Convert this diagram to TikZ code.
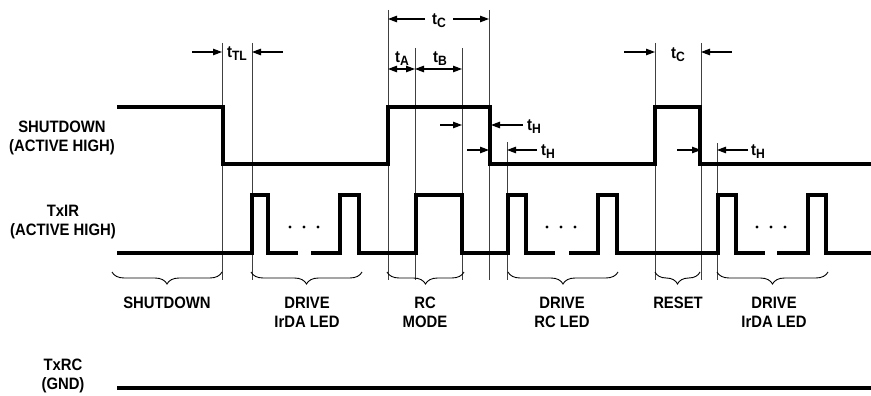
\documentclass[tikz,border=0pt]{standalone}
\usepackage{fontspec}
\setmainfont{Liberation Sans}[FakeStretch=0.9]
\usepackage{tikz}
\usetikzlibrary{arrows.meta,decorations.pathreplacing}

\newcommand{\tsub}[1]{t\raisebox{-0.35ex}{\fontsize{13.5}{13.5}\selectfont #1}}

\tikzset{
  signal/.style={line width=3.2pt, line join=miter},
  guide/.style={line width=0.8pt, black!75},
  dim/.style={line width=1.1pt, -{Triangle[length=9pt,width=6.5pt]}},
  dimboth/.style={line width=1.1pt, {Triangle[length=9pt,width=6.5pt]}-{Triangle[length=9pt,width=6.5pt]}},
  phase/.style={line width=0.9pt, decorate, decoration={brace,mirror,amplitude=12pt}},
  lbl/.style={align=center}
}

\begin{document}
\begin{tikzpicture}[x=1pt, y=-1pt, every node/.style={font=\bfseries\fontsize{16.5}{19}\selectfont, inner sep=0pt}]
    \useasboundingbox (0,0) rectangle (871,396);

    % Guide lines
    \foreach \name/\x/\top in {tla/222/43, tlb/252/43, ca/388/10, ab/415/48, bh/462/48,
                               cb/489/10, ha/507/142, ra/655/43, rb/701/43, hb/717/143} {
        \coordinate (\name) at (\x,\top);
        \draw[guide] (\name) -- (\x,280);
    }

    % Signal names
    \node[lbl] (sdname) at (62,137.5) {SHUTDOWN\\(ACTIVE HIGH)};
    \node[lbl] (irname) at (63,222.5) {TxIR\\(ACTIVE HIGH)};
    \node[lbl] (rcname) at (63,376) {TxRC\\(GND)};

    % SHUTDOWN
    \draw[signal] (117,107) -- (223,107) -- (223,164) -- (388,164) -- (388,107) -- (490,107)
        -- (490,164) -- (655,164) -- (655,107) -- (700,107) -- (700,164) -- (871,164);

    % TxIR
    \draw[signal] (117,253) -- (252,253) -- (252,195) -- (268,195) -- (268,253) -- (298,253);
    \draw[signal] (311,253) -- (340,253) -- (340,195) -- (359,195) -- (359,253) -- (416,253)
        -- (416,195) -- (462,195) -- (462,253) -- (508,253) -- (508,195) -- (526,195)
        -- (526,253) -- (555,253);
    \draw[signal] (569,253) -- (598,253) -- (598,195) -- (617,195) -- (617,253) -- (718,253)
        -- (718,195) -- (736,195) -- (736,253) -- (765,253);
    \draw[signal] (777,253) -- (808,253) -- (808,195) -- (826,195) -- (826,253) -- (871,253);
    \foreach \x in {290,304,318, 547,561,575, 757,771,785}
        \fill (\x,227) circle (1.7);

    % TxRC
    \draw[signal] (117,388) -- (871,388);

    % Timing marks
    \draw[dim] ([xshift=-30pt]tla |- 0,52) -- (tla |- 0,52);
    \draw[dim] ([xshift=31pt]tlb |- 0,52) -- (tlb |- 0,52);
    \node (tTL) at (237,54) {\tsub{TL}};

    \draw[dim] ([xshift=37pt]ca |- 0,19) -- (ca |- 0,19);
    \draw[dim] ([xshift=-36pt]cb |- 0,19) -- (cb |- 0,19);
    \node (tC) at (439,21) {\tsub{C}};

    \draw[dimboth] (ca |- 0,69) -- (ab |- 0,69);
    \draw[dimboth] (ab |- 0,69) -- (bh |- 0,69);
    \node (tA) at (402,59) {\tsub{A}};
    \node (tB) at (440,59) {\tsub{B}};

    \draw[dim] ([xshift=-22pt]bh |- 0,125) -- (bh |- 0,125);
    \draw[dim] ([xshift=34pt]cb |- 0,125) -- ([xshift=2pt]cb |- 0,125);
    \node[anchor=west] (tH1) at (527,127) {\tsub{H}};

    \draw[dim] ([xshift=-22pt]cb |- 0,150) -- (cb |- 0,150);
    \draw[dim] ([xshift=30pt]ha |- 0,150) -- (ha |- 0,150);
    \node[anchor=west] (tH2) at (541,152) {\tsub{H}};

    \draw[dim] ([xshift=-31pt]ra |- 0,52) -- (ra |- 0,52);
    \draw[dim] ([xshift=31pt]rb |- 0,52) -- (rb |- 0,52);
    \node (tC2) at (678,55) {\tsub{C}};

    \draw[dim] ([xshift=-24pt]rb |- 0,150) -- (rb |- 0,150);
    \draw[dim] ([xshift=31pt]hb |- 0,150) -- (hb |- 0,150);
    \node[anchor=west] (tH3) at (751,152) {\tsub{H}};

    % Phases
    \draw[phase] (112,272) -- (222,272);
    \draw[phase] (251,272) -- (362,272);
    \draw[phase] (387,272) -- (464,272);
    \draw[phase] (508,272) -- (618,272);
    \draw[phase] (655,272) -- (700,272);
    \draw[phase] (717,272) -- (828,272);
    \node (pShut) at (167,303) {SHUTDOWN};
    \node[lbl] (pIrda) at (307,312.5) {DRIVE\\IrDA LED};
    \node[lbl] (pRc) at (425,312.5) {RC\\MODE};
    \node[lbl] (pRcled) at (562,312.5) {DRIVE\\RC LED};
    \node (pReset) at (678,303) {RESET};
    \node[lbl] (pIrda2) at (774,312.5) {DRIVE\\IrDA LED};
\end{tikzpicture}
\end{document}
